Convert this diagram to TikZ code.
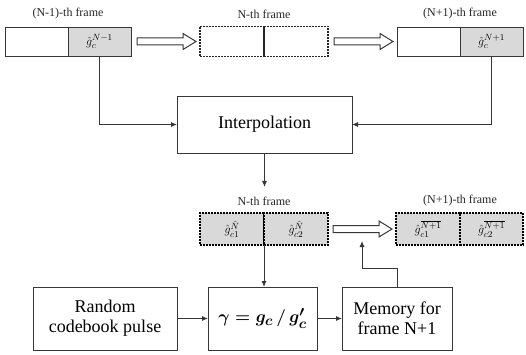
\documentclass[tikz,border=0pt]{standalone}
\usepackage{amsmath}
\usepackage{fontspec}
\setmainfont{LiberationSerif}[Extension=.ttf, UprightFont=*-Regular, BoldFont=*-Bold, ItalicFont=*-Italic, BoldItalicFont=*-BoldItalic]
\usetikzlibrary{arrows.meta,calc}
\definecolor{ln}{RGB}{55,55,55}
\definecolor{cellgray}{RGB}{217,217,217}
\begin{document}
\begin{tikzpicture}[x=1pt,y=-1pt,
  every node/.style={inner sep=0pt, outer sep=0pt},
  cell/.style={draw=ln, line width=0.9pt, minimum width=63pt, minimum height=29pt},
  gcell/.style={cell, fill=cellgray, font=\rmfamily\fontsize{13}{14}\selectfont},
  dcell/.style={draw=black!85, line width=1.1pt, dash pattern=on 2pt off 1pt, minimum width=64pt, minimum height=30pt},
  ocell/.style={draw=black, fill=cellgray, line width=1.7pt, dash pattern=on 1.7pt off 1.3pt, minimum height=32pt, font=\rmfamily\fontsize{13}{14}\selectfont},
  lab/.style={font=\rmfamily\fontsize{12}{14}\selectfont, text=black!85},
  box/.style={draw=ln, line width=0.9pt, minimum height=63pt, align=center, font=\rmfamily\fontsize{18}{20}\selectfont},
  conn/.style={draw=ln, line width=0.9pt},
  arr/.style={conn, -{Latex[length=6pt,width=5pt]}},
  hollow/.style={draw=ln, line width=1pt, fill=white, line join=miter}
]
\useasboundingbox (0,0) rectangle (526,355);

% top labels
\node[lab] (l1) at (68,14) {(N-1)-th frame};
\node[lab] (l2) at (264,14) {N-th frame};
\node[lab] (l3) at (460,14) {(N+1)-th frame};

% top frames
\node[cell] (f1a) at (36.5,41.5) {};
\node[gcell] (f1b) at (99.5,41.5) {$\hat{g}_c^{N-1}$};
\node[dcell] (f2a) at (232,41.5) {};
\node[dcell] (f2b) at (296,41.5) {};
\draw[black!85, line width=1.2pt] (f2a.north east) -- (f2a.south east);
\node[cell] (f3a) at (428.5,41.5) {};
\node[gcell] (f3b) at (491.5,41.5) {$\hat{g}_c^{N+1}$};

% hollow arrows top
\draw[hollow] let \p1=(f1b.east), \p2=(f2a.west) in
  (\x1+6pt,\y1+3.5pt) -- (\x2-17pt,\y1+3.5pt) -- (\x2-17pt,\y1+8pt) -- (\x2-4pt,\y1)
  -- (\x2-17pt,\y1-8pt) -- (\x2-17pt,\y1-3.5pt) -- (\x1+6pt,\y1-3.5pt) -- cycle;
\draw[hollow] let \p1=(f2b.east), \p2=(f3a.west) in
  (\x1+6pt,\y1+3.5pt) -- (\x2-17pt,\y1+3.5pt) -- (\x2-17pt,\y1+8pt) -- (\x2-4pt,\y1)
  -- (\x2-17pt,\y1-8pt) -- (\x2-17pt,\y1-3.5pt) -- (\x1+6pt,\y1-3.5pt) -- cycle;

% interpolation
\node[box, minimum width=175pt, minimum height=57pt] (interp) at (264.5,124.5) {Interpolation};
\draw[arr] (f1b.south) |- (interp.west);
\draw[arr] (f3b.south) |- (interp.east);

% N-th frame (bottom)
\coordinate (c1) at (264.5,187);
\draw[arr] (interp.south) -- (c1);
\node[lab] (l4) at (264,201) {N-th frame};
\node[lab] (l5) at (460,201) {(N+1)-th frame};

\node[ocell, minimum width=64pt] (b1a) at (232,229) {$\hat{g}_{c1}^{\hat{N}}$};
\node[ocell, minimum width=64pt] (b1b) at (296,229) {$\hat{g}_{c2}^{\hat{N}}$};
\node[ocell, minimum width=64pt] (b2a) at (428,229) {$\hat{g}_{c1}^{\overline{N+1}}$};
\node[ocell, minimum width=63pt] (b2b) at (491.5,229) {$\hat{g}_{c2}^{\overline{N+1}}$};

\draw[hollow] let \p1=(b1b.east), \p2=(b2a.west) in
  (\x1+5pt,\y1+3.5pt) -- (\x2-17pt,\y1+3.5pt) -- (\x2-17pt,\y1+8pt) -- (\x2-4pt,\y1)
  -- (\x2-17pt,\y1-8pt) -- (\x2-17pt,\y1-3.5pt) -- (\x1+5pt,\y1-3.5pt) -- cycle;

% bottom boxes
\node[box, minimum width=144pt] (rand) at (105,318.5) {Random\\codebook pulse};
\node[box, minimum width=109pt, font=\fontsize{19}{20}\selectfont] (gamma) at (262.5,318.5) {$\boldsymbol{\gamma = g_c \,/\, g'_c}$};
\node[box, minimum width=110pt] (mem) at (397,318.5) {Memory for\\frame N+1};

\draw[arr] (b1a.south east) -- (b1a.south east |- gamma.north);
\draw[arr] (rand.east) -- (gamma.west);
\draw[arr] (gamma.east) -- (mem.west);
\coordinate (c2) at (362,241);
\draw[arr] (mem.north) -- ++(0,-19) -| (c2);

\end{tikzpicture}
\end{document}
